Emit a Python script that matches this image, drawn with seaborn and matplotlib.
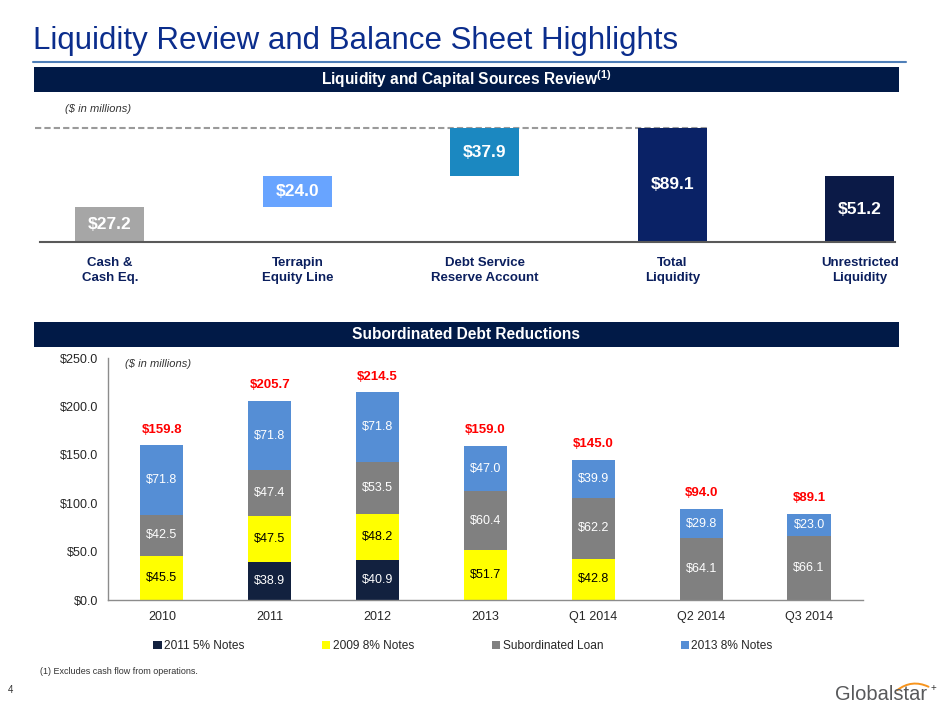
import matplotlib
matplotlib.use("Agg")
import matplotlib.pyplot as plt
import numpy as np
import pandas as pd
import seaborn as sns
from matplotlib.lines import Line2D
from matplotlib.patches import FancyArrowPatch, Patch, Rectangle
from matplotlib.ticker import FuncFormatter

# liquidity and capital sources (waterfall)
liq_labels = ["Cash &\nCash Eq.", "Terrapin\nEquity Line", "Debt Service\nReserve Account",
              "Total\nLiquidity", "Unrestricted\nLiquidity"]
liq_values = [27.2, 24.0, 37.9, 89.1, 51.2]
liq_kind = ["step", "step", "step", "total", "total"]
liq_colors = ["#A6A6A6", "#68A4FF", "#1B88C1", "#0A2266", "#0B1A47"]

# subordinated debt reductions (stacked)
periods = ["2010", "2011", "2012", "2013", "Q1 2014", "Q2 2014", "Q3 2014"]
notes_2011 = [0.0, 38.9, 40.9, 0.0, 0.0, 0.0, 0.0]
notes_2009 = [45.5, 47.5, 48.2, 51.7, 42.8, 0.0, 0.0]
sub_loan = [42.5, 47.4, 53.5, 60.4, 62.2, 64.1, 66.1]
notes_2013 = [71.8, 71.8, 71.8, 47.0, 39.9, 29.8, 23.0]
totals = [159.8, 205.7, 214.5, 159.0, 145.0, 94.0, 89.1]
series_names = ["2011 5% Notes", "2009 8% Notes", "Subordinated Loan", "2013 8% Notes"]
series_colors = ["#12213F", "#FFFF00", "#808080", "#558ED5"]
label_colors = ["white", "black", "white", "white"]

W, H = 940, 705
NAVY = "#011A47"
TITLE_BLUE = "#0B2D8C"
LABEL_NAVY = "#0B1F5E"


def fig_box(x0, y0, x1, y1):
    """Pixel box (top-left origin) -> figure-fraction rect."""
    return [x0 / W, 1 - y1 / H, (x1 - x0) / W, (y1 - y0) / H]


def fy(y):
    return 1 - y / H


def header_bar(fig, y0, y1, text, size=11.2):
    fig.patches.append(Rectangle((34 / W, fy(y1)), 865 / W, (y1 - y0) / H,
                                 transform=fig.transFigure, facecolor=NAVY, edgecolor="none"))
    fig.text(466 / W, fy((y0 + y1) / 2), text, ha="center", va="center",
             color="white", fontsize=size, fontweight="bold")


def draw_liquidity(fig):
    ax = fig.add_axes(fig_box(40, 114, 895, 242))
    x = np.arange(len(liq_values))
    vals = np.array(liq_values)
    is_step = np.array([k == "step" for k in liq_kind])
    running = np.concatenate([[0.0], np.cumsum(vals)[:-1]])
    bottoms = np.where(is_step, running, 0.0)
    width = 0.368

    ax.bar(x, vals, bottom=bottoms, width=width, color=liq_colors, linewidth=0)
    for xi, b, v in zip(x, bottoms, vals):
        ax.text(xi, b + v / 2, f"${v:.1f}", ha="center", va="center",
                color="white", fontsize=12.5, fontweight="bold")

    total_idx = liq_kind.index("total")
    ax.hlines(vals[total_idx], -0.4, x[total_idx] + width / 2, colors="#9A9A9A",
              linestyles=(0, (3, 1.5)), linewidth=1.5, clip_on=False, zorder=0)

    ax.set_xlim(-0.373, 4.187)
    ax.set_ylim(0, 100)
    ax.set_xticks(x)
    ax.set_xticklabels(liq_labels, fontsize=9.5, fontweight="bold", color=LABEL_NAVY,
                       linespacing=1.25)
    ax.tick_params(axis="x", length=0, pad=11)
    ax.set_yticks([])
    ax.set_facecolor("none")
    sns.despine(ax=ax, left=True)
    ax.spines["bottom"].set_color("#595959")
    ax.spines["bottom"].set_linewidth(1.5)


def draw_debt(fig):
    ax = fig.add_axes(fig_box(108, 358, 863, 600))
    segs = np.array([notes_2011, notes_2009, sub_loan, notes_2013])
    stack = np.cumsum(segs, axis=0)
    lows = np.vstack([np.zeros(len(periods)), stack[:-1]])

    # layered bars: tallest cumulative first, each lower series drawn on top
    for i in reversed(range(len(series_names))):
        df = pd.DataFrame({"period": periods, "height": stack[i]})
        sns.barplot(data=df, x="period", y="height", order=periods, color=series_colors[i],
                    width=0.4, saturation=1, errorbar=None, ax=ax, linewidth=0)

    for i, row in enumerate(segs):
        for j, v in enumerate(row):
            if v > 0:
                ax.text(j, lows[i][j] + v / 2, f"${v:.1f}", ha="center", va="center",
                        color=label_colors[i], fontsize=9)

    for j, t in enumerate(totals):
        ax.annotate(f"${t:.1f}", (j, stack[-1][j]), xytext=(0, 7), textcoords="offset points",
                    ha="center", va="bottom", color="#FF0000", fontsize=9.5, fontweight="bold")

    ax.set_xlim(-0.5, len(periods) - 0.5)
    ax.set_ylim(0, 250)
    ax.set_yticks(np.arange(0, 251, 50))
    ax.yaxis.set_major_formatter(FuncFormatter(lambda v, _: f"${v:,.1f}"))
    ax.set_xticks(np.arange(-0.5, len(periods), 1), minor=True)
    ax.tick_params(axis="x", which="major", length=0, pad=8, labelsize=9, labelcolor="#262626")
    ax.tick_params(axis="x", which="minor", length=4, width=1, color="#8C8C8C", direction="out")
    ax.tick_params(axis="y", length=4, width=1, color="#8C8C8C", direction="out", pad=3,
                   labelsize=9, labelcolor="#262626")
    ax.set_xlabel("")
    ax.set_ylabel("")
    ax.set_facecolor("none")
    sns.despine(ax=ax)
    for side in ("left", "bottom"):
        ax.spines[side].set_color("#8C8C8C")
        ax.spines[side].set_linewidth(1)

    handles = [Patch(facecolor=c, edgecolor="none", label=n)
               for n, c in zip(series_names, series_colors)]
    fig.legend(handles=handles, loc="center", bbox_to_anchor=(463 / W, fy(646)), ncol=4,
               frameon=False, fontsize=8.6, handlelength=0.7, handleheight=0.7,
               handletextpad=0.2, columnspacing=6.5, labelcolor="#262626")


def main():
    sns.set_theme(style="white")
    plt.rcParams.update({
        "font.family": ["Liberation Sans", "DejaVu Sans"],
        "mathtext.fontset": "custom",
        "mathtext.rm": "Liberation Sans",
        "mathtext.bf": "Liberation Sans:bold",
    })

    fig = plt.figure(figsize=(W / 100, H / 100), dpi=100)
    fig.patch.set_facecolor("white")

    fig.text(33 / W, fy(49), "Liquidity Review and Balance Sheet Highlights",
             fontsize=22.5, color=TITLE_BLUE, va="baseline", ha="left")
    fig.add_artist(Line2D([33 / W, 906 / W], [fy(62), fy(62)],
                          transform=fig.transFigure, color="#4F7FB8", linewidth=1.5))

    header_bar(fig, 67, 92, r"Liquidity and Capital Sources Review$^{\mathbf{(1)}}$")
    fig.text(65 / W, fy(109), "($ in millions)", fontsize=8, style="italic", color="#333333",
             va="center")
    draw_liquidity(fig)

    header_bar(fig, 322, 347, "Subordinated Debt Reductions")
    fig.text(125 / W, fy(364), "($ in millions)", fontsize=8, style="italic", color="#333333",
             va="center")
    draw_debt(fig)

    fig.text(40 / W, fy(671), "(1) Excludes cash flow from operations.", fontsize=6.5,
             color="#333333", va="center")
    fig.text(8 / W, fy(690), "4", fontsize=7, color="#333333", va="center")

    # company wordmark
    fig.text(835 / W, fy(700), "Globalstar", fontsize=14.5, color="#58595B", va="baseline")
    fig.add_artist(FancyArrowPatch((895 / W, fy(692)), (931 / W, fy(688)),
                                   transform=fig.transFigure, arrowstyle="-",
                                   connectionstyle="arc3,rad=-0.35", color="#F7941D", lw=1.4))
    fig.text(933 / W, fy(688), "+", fontsize=7, color="#3A3A3A", ha="center", va="center")

    fig.savefig("out.png", dpi=100)
    plt.close(fig)


if __name__ == "__main__":
    main()
